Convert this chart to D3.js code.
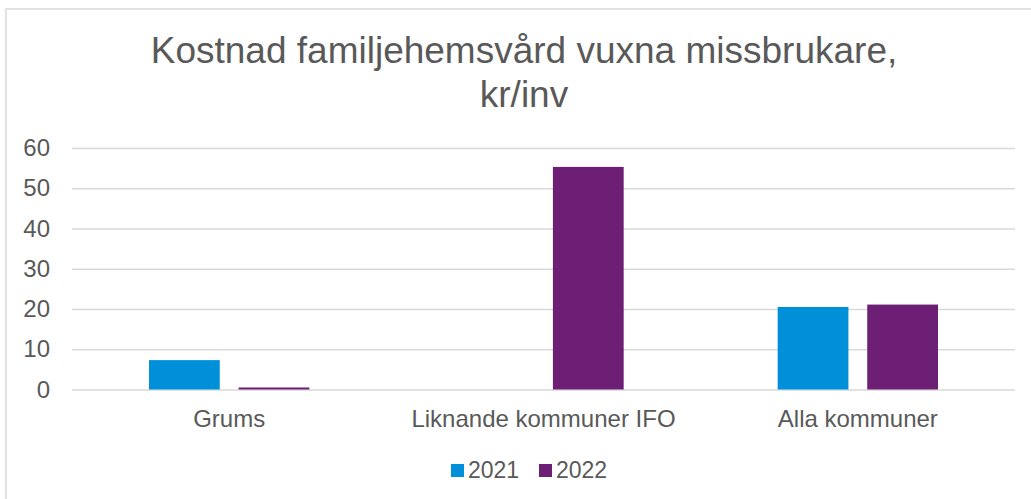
<!DOCTYPE html>
<html>
<head>
<meta charset="utf-8">
<script src="https://cdn.jsdelivr.net/npm/d3@7"></script>
<style>
  body { margin: 0; background: #fff; }
  svg { font-family: "Liberation Sans", Arial, sans-serif; }
</style>
</head>
<body>
<div class="chart"></div>
<script>
const categories = ['Grums', 'Liknande kommuner IFO', 'Alla kommuner'];
const seriesNames = ['2021', '2022'];
const values2021 = [7.3, null, 20.5];
const values2022 = [0.5, 55.3, 21.1];
const yTicks = [0, 10, 20, 30, 40, 50, 60];
const colors = ['#0090d9', '#6c1f74'];

let chart = {
  config: { w: 1031, h: 499, top: 148, bottom: 389.5, left: 72, right: 1015 },
  init: function () {
    const c = this.config;
    this.svg = d3.select('.chart').append('svg')
      .attr('width', c.w)
      .attr('height', c.h);
    // frame
    this.svg.append('rect')
      .attr('x', 6).attr('y', 9)
      .attr('width', c.w + 20).attr('height', c.h + 20)
      .attr('fill', '#fff').attr('stroke', '#d9d9d9').attr('stroke-width', 1.5);

    this.x0 = d3.scaleBand().domain(categories).range([c.left, c.right]).paddingInner(0).paddingOuter(0);
    this.x1 = d3.scaleBand().domain(seriesNames).range([77, this.x0.bandwidth() - 77]).paddingInner(0.21);
    this.y = d3.scaleLinear().domain([0, 60]).range([c.bottom, c.top]);
    this.render();
  },
  render: function () {
    const c = this.config;
    // title
    const title = this.svg.append('text')
      .attr('x', 524).attr('text-anchor', 'middle')
      .attr('fill', '#595959').style('font-size', '37px');
    title.append('tspan').attr('x', 524).attr('y', 63).text('Kostnad familjehemsvård vuxna missbrukare,');
    title.append('tspan').attr('x', 524).attr('y', 107).text('kr/inv');

    // y axis with gridlines
    const yAxis = d3.axisLeft(this.y).tickValues(yTicks).tickSize(-(c.right - c.left)).tickPadding(22);
    const ya = this.svg.append('g')
      .attr('transform', `translate(${c.left},0)`)
      .call(yAxis);
    ya.select('.domain').remove();
    ya.selectAll('line').attr('stroke', '#d9d9d9').attr('stroke-width', 1.5);
    ya.selectAll('text').attr('fill', '#595959').style('font-size', '24px')
      .style('font-family', '"Liberation Sans", Arial, sans-serif');

    // x axis labels
    const xAxis = d3.axisBottom(this.x0).tickSize(0).tickPadding(20);
    const xa = this.svg.append('g')
      .attr('transform', `translate(0,${c.bottom})`)
      .call(xAxis);
    xa.select('.domain').remove();
    xa.selectAll('text').attr('fill', '#595959').style('font-size', '24px')
      .style('font-family', '"Liberation Sans", Arial, sans-serif');

    // bars
    const series = [values2021, values2022];
    const groups = this.svg.append('g').selectAll('g')
      .data(categories)
      .join('g')
      .attr('transform', d => `translate(${this.x0(d)},0)`);
    groups.selectAll('rect')
      .data((d, i) => seriesNames.map((s, j) => ({ s: s, v: series[j][i], j: j })).filter(e => e.v != null))
      .join('rect')
      .attr('x', d => this.x1(d.s))
      .attr('width', this.x1.bandwidth())
      .attr('y', d => this.y(d.v))
      .attr('height', d => this.y(0) - this.y(d.v))
      .attr('fill', d => colors[d.j]);

    // legend
    const legendX = [451, 539];
    const lg = this.svg.append('g').selectAll('g')
      .data(seriesNames)
      .join('g')
      .attr('transform', (d, i) => `translate(${legendX[i]},464)`);
    lg.append('rect').attr('width', 13).attr('height', 13).attr('fill', (d, i) => colors[i]);
    lg.append('text').attr('x', 17).attr('y', 13.5).attr('fill', '#595959')
      .style('font-size', '23px').text(d => d);
  }
};

chart.init();
</script>
</body>
</html>
